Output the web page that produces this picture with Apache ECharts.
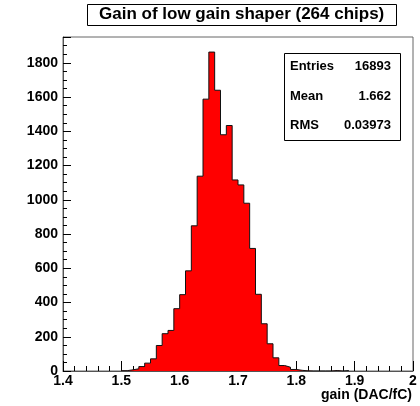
<!DOCTYPE html>
<html>
<head>
<meta charset="utf-8">
<script src="https://cdn.jsdelivr.net/npm/echarts@6/dist/echarts.min.js"></script>
<style>html,body{margin:0;padding:0;background:#fff}#c{width:420px;height:406px}</style>
</head>
<body>
<div id="c"></div>
<script>
// Histogram of gain (DAC/fC): 60 bins of width 0.01 from 1.40 to 2.00
var binStart = 1.40;
var binWidth = 0.01;
var counts = [
  0, 0, 0, 0, 0, 0, 0, 0, 0, 0,                 // 1.40-1.49
  2, 7, 13, 26, 46, 71, 149, 218, 237, 364,     // 1.50-1.59
  446, 585, 848, 1138, 1588, 1863, 1640, 1380, 1434, 1116, // 1.60-1.69
  1087, 980, 716, 448, 276, 159, 77, 32, 22, 9, // 1.70-1.79
  4, 1, 0, 0, 0, 0, 3, 0, 3, 0,                 // 1.80-1.89
  0, 0, 0, 0, 0, 0, 0, 0, 0, 0                  // 1.90-1.99
];
var xTicks = [1.4, 1.5, 1.6, 1.7, 1.8, 1.9, 2.0];
var yTicks = [0, 200, 400, 600, 800, 1000, 1200, 1400, 1600, 1800];
var titleText = 'Gain of low gain shaper (264 chips)';
var xTitle = 'gain (DAC/fC)';
var statNames = ['Entries', 'Mean', 'RMS'];
var statValues = ['16893', '1.662', '0.03973'];

// build step data only over the filled range so the zero stretches keep the grey axis line
var first = 0, last = counts.length - 1;
while (first < counts.length && counts[first] === 0) first++;
while (last > 0 && counts[last] === 0) last--;
var data = [];
for (var i = first; i <= last; i++) {
  data.push([+(binStart + i * binWidth).toFixed(2), counts[i]]);
}
data.push([+(binStart + (last + 1) * binWidth).toFixed(2), 0]);

var FONT = '"Liberation Sans", Arial, Helvetica, sans-serif';
var chart = echarts.init(document.getElementById('c'), null, {renderer: 'canvas'});

var statGraphics = [];
statGraphics.push({
  type: 'rect', left: 284, top: 53, z: 10,
  shape: {width: 116, height: 87},
  style: {fill: '#fff', stroke: '#000', lineWidth: 1}
});
for (var k = 0; k < statNames.length; k++) {
  statGraphics.push({
    type: 'text', left: 290, top: 60 + k * 29.5, z: 11,
    style: {text: statNames[k], font: 'bold 13px ' + FONT, fill: '#000'}
  });
  statGraphics.push({
    type: 'text', right: 29, top: 60 + k * 29.5, z: 11,
    style: {text: statValues[k], font: 'bold 13px ' + FONT, fill: '#000', align: 'right'}
  });
}
statGraphics.push({
  type: 'text', right: 8, top: 388, z: 11,
  style: {text: xTitle, font: 'bold 14px ' + FONT, fill: '#000'}
});

chart.setOption({
  animation: false,
  backgroundColor: '#fff',
  title: {
    text: titleText,
    left: 87, top: 4,
    padding: [2, 12, 3, 12],
    borderColor: '#000', borderWidth: 1,
    backgroundColor: '#fff',
    textStyle: {fontFamily: FONT, fontWeight: 'bold', fontSize: 17, color: '#000'}
  },
  grid: {left: 63, right: 7, top: 37, bottom: 35, show: true, borderColor: '#666', borderWidth: 1},
  xAxis: {
    type: 'value', min: xTicks[0], max: xTicks[xTicks.length - 1], interval: 0.1,
    axisLine: {lineStyle: {color: '#555', width: 1}},
    axisTick: {inside: true, length: 10, lineStyle: {color: '#000'}},
    minorTick: {show: true, splitNumber: 5, length: 5, lineStyle: {color: '#000'}},
    splitLine: {show: false},
    axisLabel: {
      margin: 3, color: '#000', fontFamily: FONT, fontWeight: 'bold', fontSize: 14,
      formatter: function (v) { return String(parseFloat(v.toFixed(1))); }
    }
  },
  yAxis: {
    type: 'value', min: 0, max: 1951, interval: 200,
    axisLine: {show: true, lineStyle: {color: '#555', width: 1}},
    axisTick: {show: true, inside: true, length: 8, lineStyle: {color: '#000'}},
    minorTick: {show: true, splitNumber: 4, length: 4, lineStyle: {color: '#000'}},
    splitLine: {show: false},
    axisLabel: {
      margin: 5, color: '#000', fontFamily: FONT, fontWeight: 'bold', fontSize: 14,
      showMaxLabel: false,
      formatter: function (v) { return yTicks.indexOf(v) >= 0 ? String(v) : ''; }
    }
  },
  series: [{
    type: 'line', step: 'end', data: data, symbol: 'none',
    lineStyle: {color: '#111', width: 1},
    areaStyle: {color: '#ff0000', opacity: 1}
  }],
  graphic: statGraphics
});
</script>
</body>
</html>
